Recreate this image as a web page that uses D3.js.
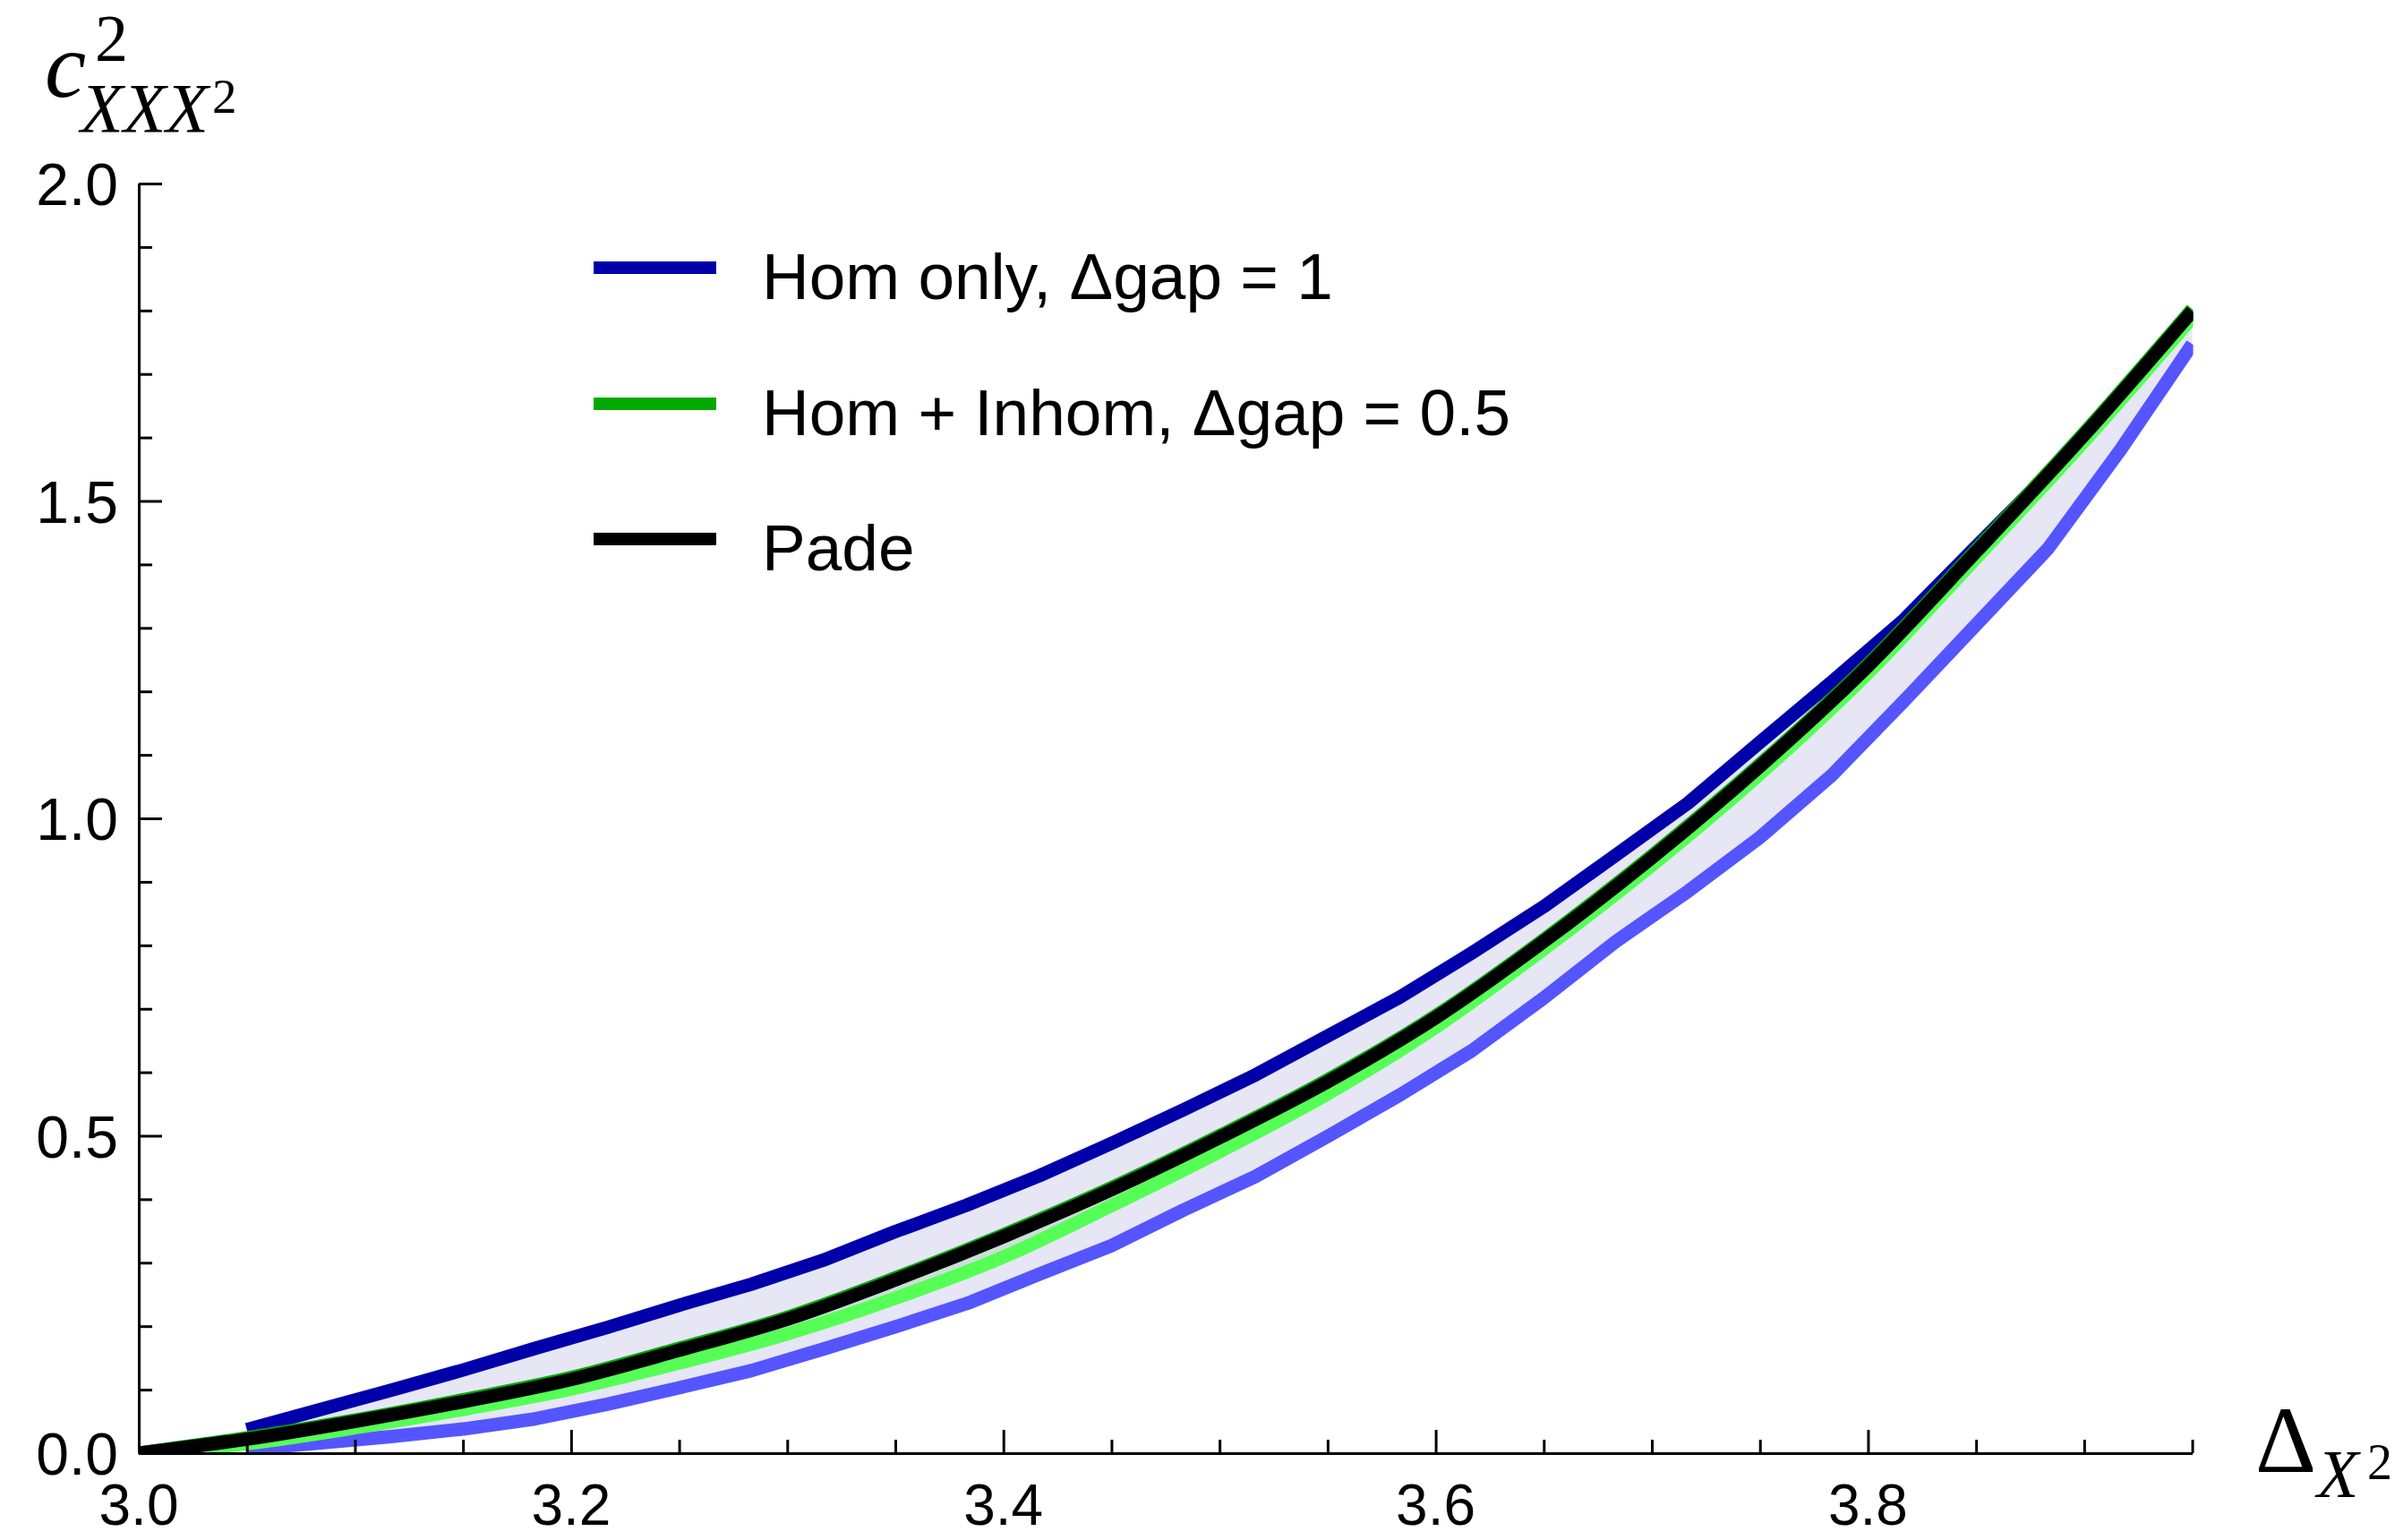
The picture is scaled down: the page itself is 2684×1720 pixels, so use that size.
<!DOCTYPE html>
<html>
<head>
<meta charset="utf-8">
<script src="https://cdn.jsdelivr.net/npm/d3@7"></script>
<style>
  html, body { margin: 0; padding: 0; background: #fff; }
  svg { display: block; }
</style>
</head>
<body>
<svg id="chart" width="2684" height="1720"></svg>
<script>
// ---------------- data ----------------
// Hom only band (sampled every 1/30 from 3.05 to 3.95)
const xHom = [3.05, 3.0833, 3.1167, 3.15, 3.1833, 3.2167, 3.25, 3.2833, 3.3167, 3.35,
              3.3833, 3.4167, 3.45, 3.4833, 3.5167, 3.55, 3.5833, 3.6167, 3.65, 3.6833,
              3.7167, 3.75, 3.7833, 3.8167, 3.85, 3.8833, 3.9167, 3.95];
const homUpper = [0.037, 0.068, 0.099, 0.131, 0.165, 0.198, 0.233, 0.266, 0.304, 0.349,
                  0.391, 0.437, 0.488, 0.541, 0.596, 0.657, 0.718, 0.788, 0.861, 0.942,
                  1.024, 1.120, 1.215, 1.313, 1.428, 1.542, 1.666, 1.797];
const homLower = [0.006, 0.016, 0.026, 0.038, 0.054, 0.077, 0.103, 0.130, 0.164, 0.199,
                  0.236, 0.282, 0.327, 0.383, 0.436, 0.499, 0.564, 0.634, 0.717, 0.806,
                  0.885, 0.970, 1.068, 1.185, 1.305, 1.425, 1.580, 1.747];
// Hom + Inhom band and Pade (every 0.05 from 3.00 to 3.95)
const xFine = [3.00, 3.05, 3.10, 3.15, 3.20, 3.25, 3.30, 3.35, 3.40, 3.45,
               3.50, 3.55, 3.60, 3.65, 3.70, 3.75, 3.80, 3.85, 3.90, 3.95];
const inhomUpper = [0.000, 0.024, 0.052, 0.084, 0.119, 0.165, 0.214, 0.276, 0.344, 0.418,
                    0.500, 0.588, 0.689, 0.809, 0.941, 1.085, 1.243, 1.423, 1.607, 1.802];
const inhomLower = [0.000, 0.015, 0.040, 0.069, 0.101, 0.142, 0.188, 0.244, 0.309, 0.390,
                    0.475, 0.566, 0.671, 0.794, 0.926, 1.070, 1.229, 1.410, 1.594, 1.789];
const pade = [0.000, 0.022, 0.050, 0.081, 0.116, 0.162, 0.211, 0.273, 0.341, 0.415,
              0.497, 0.585, 0.686, 0.806, 0.938, 1.082, 1.240, 1.420, 1.604, 1.799];

const xMajorTicks = [3.0, 3.2, 3.4, 3.6, 3.8];
const xTickLabels = ["3.0", "3.2", "3.4", "3.6", "3.8"];
const xMinorTicks = [3.05, 3.1, 3.15, 3.25, 3.3, 3.35, 3.45, 3.5, 3.55, 3.65, 3.7, 3.75, 3.85, 3.9, 3.95];
const yMajorTicks = [0, 0.5, 1.0, 1.5, 2.0];
const yTickLabels = ["0.0", "0.5", "1.0", "1.5", "2.0"];
const yMinorTicks = [0.1, 0.2, 0.3, 0.4, 0.6, 0.7, 0.8, 0.9, 1.1, 1.2, 1.3, 1.4, 1.6, 1.7, 1.8, 1.9];

const legendLabels = ["Hom only, \u0394gap = 1", "Hom + Inhom, \u0394gap = 0.5", "Pade"];

// ---------------- styles ----------------
const C = {
  darkBlue: "#0000aa", lightBlue: "#5555ff", blueFill: "#e6e6f5",
  darkGreen: "#00aa00", lightGreen: "#55ff55", greenFill: "rgba(0,170,0,0.12)",
  black: "#000000"
};
const LW = 15;

// ---------------- scales ----------------
const x = d3.scaleLinear().domain([3.0, 3.95]).range([155, 2448.6]);
const y = d3.scaleLinear().domain([0, 2.0]).range([1623, 205]);

const svg = d3.select("#chart");

svg.append("defs").append("clipPath").attr("id", "plotclip")
  .append("rect")
  .attr("x", x(3.0)).attr("y", 0)
  .attr("width", x(3.95) - x(3.0) + 1).attr("height", y(0));

const plot = svg.append("g").attr("clip-path", "url(#plotclip)");

const homData = xHom.map((v, i) => ({x: v, lo: homLower[i], hi: homUpper[i]}));
const fineData = xFine.map((v, i) => ({x: v, lo: inhomLower[i], hi: inhomUpper[i], p: pade[i]}));

// fills
plot.append("path").datum(homData)
  .attr("d", d3.area().x(d => x(d.x)).y0(d => y(d.lo)).y1(d => y(d.hi)))
  .attr("fill", C.blueFill).attr("stroke", "none");
plot.append("path").datum(fineData)
  .attr("d", d3.area().x(d => x(d.x)).y0(d => y(d.lo)).y1(d => y(d.hi)))
  .attr("fill", C.greenFill).attr("stroke", "none");

function addLine(data, acc, color, curve) {
  plot.append("path").datum(data)
    .attr("d", d3.line().x(d => x(d.x)).y(d => y(acc(d))).curve(curve || d3.curveLinear))
    .attr("fill", "none").attr("stroke", color)
    .attr("stroke-width", LW).attr("stroke-linejoin", "round").attr("stroke-linecap", "butt");
}
addLine(homData, d => d.hi, C.darkBlue);
addLine(homData, d => d.lo, C.lightBlue);
addLine(fineData, d => d.hi, C.darkGreen, d3.curveMonotoneX);
addLine(fineData, d => d.lo, C.lightGreen, d3.curveMonotoneX);
addLine(fineData, d => d.p, C.black, d3.curveMonotoneX);

// ---------------- axes ----------------
const axisG = svg.append("g");
function styleAxis(g) {
  g.selectAll("path.domain").attr("stroke", "#000").attr("stroke-width", 3);
  g.selectAll(".tick line").attr("stroke", "#000").attr("stroke-width", 3);
  g.selectAll(".tick text").remove();
}
axisG.append("g").attr("transform", `translate(0,${y(0)})`)
  .call(d3.axisBottom(x).tickValues(xMinorTicks).tickSizeInner(-15).tickSizeOuter(0).tickFormat(""))
  .call(styleAxis);
axisG.append("g").attr("transform", `translate(0,${y(0)})`)
  .call(d3.axisBottom(x).tickValues(xMajorTicks).tickSizeInner(-26).tickSizeOuter(0).tickFormat(""))
  .call(styleAxis);
axisG.append("g").attr("transform", `translate(${x(3.0)},0)`)
  .call(d3.axisLeft(y).tickValues(yMinorTicks).tickSizeInner(-15).tickSizeOuter(0).tickFormat(""))
  .call(styleAxis);
axisG.append("g").attr("transform", `translate(${x(3.0)},0)`)
  .call(d3.axisLeft(y).tickValues(yMajorTicks).tickSizeInner(-26).tickSizeOuter(0).tickFormat(""))
  .call(styleAxis);

const sans = "'Liberation Sans', Arial, Helvetica, sans-serif";
const serif = "'Liberation Serif', 'Times New Roman', serif";

// tick labels
svg.append("g").selectAll("text").data(xMajorTicks).join("text")
  .attr("x", d => x(d)).attr("y", y(0) + 80)
  .attr("text-anchor", "middle").attr("font-family", sans).attr("font-size", 64)
  .text((d, i) => xTickLabels[i]);
svg.append("g").selectAll("text").data(yMajorTicks).join("text")
  .attr("x", x(3.0) - 23).attr("y", d => y(d) + 24)
  .attr("text-anchor", "end").attr("font-family", sans).attr("font-size", 66)
  .text((d, i) => yTickLabels[i]);

// axis titles
const yt = svg.append("g").attr("font-family", serif);
yt.append("text").attr("x", 50).attr("y", 108).attr("font-size", 104).attr("font-style", "italic").text("c");
yt.append("text").attr("x", 106).attr("y", 68).attr("font-size", 74).text("2");
yt.append("text").attr("x", 90).attr("y", 147).attr("font-size", 78).attr("font-style", "italic").text("XXX");
yt.append("text").attr("x", 237).attr("y", 126).attr("font-size", 55).text("2");

const xt = svg.append("g").attr("font-family", serif);
xt.append("text").attr("x", 2519).attr("y", 1644).attr("font-size", 106).text("\u0394");
xt.append("text").attr("x", 2588).attr("y", 1672).attr("font-size", 76).attr("font-style", "italic").text("X");
xt.append("text").attr("x", 2644).attr("y", 1652).attr("font-size", 56).text("2");

// legend
const legendColors = [C.darkBlue, C.darkGreen, C.black];
const legendY = [299, 451, 602];
const leg = svg.append("g");
legendLabels.forEach((lab, i) => {
  leg.append("line").attr("x1", 663).attr("x2", 800).attr("y1", legendY[i]).attr("y2", legendY[i])
    .attr("stroke", legendColors[i]).attr("stroke-width", 14);
  leg.append("text").attr("x", 851).attr("y", legendY[i] + 34.5)
    .attr("font-family", sans).attr("font-size", 73).text(lab);
});
</script>
</body>
</html>
